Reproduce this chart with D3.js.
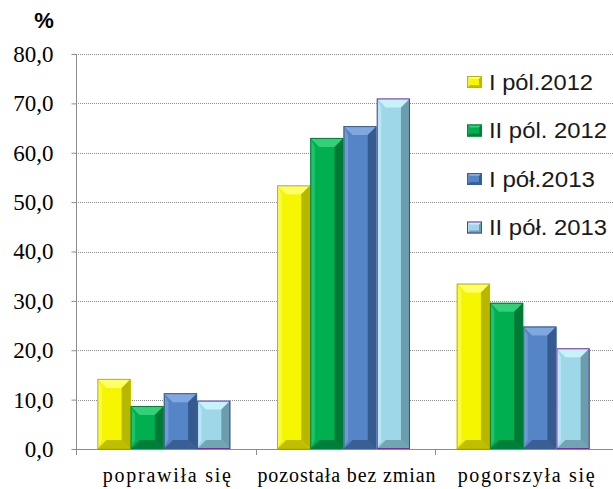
<!DOCTYPE html>
<html>
<head>
<meta charset="utf-8">
<script src="https://cdn.jsdelivr.net/npm/d3@7"></script>
<style>
  body { margin: 0; background: #fff; }
  svg { display: block; }
</style>
</head>
<body>
<div id="chart"></div>
<script>
"use strict";

// Chart data.
const categories = ["poprawiła się", "pozostała bez zmian", "pogorszyła się"];
const seriesNames = ["I pól.2012", "II pól. 2012", "I pół.2013", "II pół. 2013"];
const seriesValues = [
  [14.2, 53.4, 33.5],
  [8.7, 63.0, 29.6],
  [11.3, 65.4, 24.8],
  [9.8, 71.0, 20.4]
];
const yTicks = [0, 10, 20, 30, 40, 50, 60, 70, 80];

// Face colour, light bevel, dark bevel, outline.
const colours = [
  { face: "#f6f600", light: "#ffff66", dark: "#a8a800", line: "#b8b800" },
  { face: "#00b050", light: "#33d07a", dark: "#006b30", line: "#00803a" },
  { face: "#5585c6", light: "#7fa8e0", dark: "#2d4f80", line: "#3a5f90" },
  { face: "#9ed8e8", light: "#c8f2fa", dark: "#5f8f9c", line: "#7030a0" }
];

const width = 613, height = 489;

let svg = d3.select("#chart").append("svg")
  .attr("width", width)
  .attr("height", height);

let y = d3.scaleLinear().domain([0, 80]).range([449, 54]);

let x0 = d3.scaleBand()
  .domain(categories)
  .range([74, 613])
  .paddingInner(0.26)
  .paddingOuter(0.13);

let x1 = d3.scaleBand()
  .domain(d3.range(seriesNames.length))
  .range([0, x0.bandwidth()]);

const axisX = 76;

// Dotted gridlines.
svg.append("g")
  .selectAll("line")
  .data(yTicks.slice(1))
  .enter()
  .append("line")
  .attr("x1", axisX)
  .attr("x2", width)
  .attr("y1", d => Math.round(y(d)) + 0.5)
  .attr("y2", d => Math.round(y(d)) + 0.5)
  .style("stroke", "#8c8c8c")
  .style("stroke-width", 1)
  .style("stroke-dasharray", "1,1");

// Y axis with its labels.
let yAxis = svg.append("g")
  .attr("transform", `translate(${axisX + 0.5},0)`)
  .call(d3.axisLeft(y)
    .tickValues(yTicks)
    .tickSize(5)
    .tickPadding(18)
    .tickFormat(d => d3.format(".1f")(d).replace(".", ",")));
yAxis.select(".domain").attr("stroke", "#8c8c8c").attr("d", `M0,${y(80)}V${y(0)}`);
yAxis.selectAll(".tick line").attr("stroke", "#8c8c8c");
yAxis.selectAll(".tick text")
  .style("font-family", "'Liberation Serif', 'Times New Roman', serif")
  .style("font-size", "23px")
  .attr("fill", "#000");

// X axis line and category ticks.
svg.append("line")
  .attr("x1", axisX)
  .attr("x2", width)
  .attr("y1", y(0) + 0.5)
  .attr("y2", y(0) + 0.5)
  .style("stroke", "#8c8c8c");

svg.append("g")
  .selectAll("line")
  .data(categories)
  .enter()
  .append("line")
  .attr("x1", (d, i) => Math.round(x0.range()[0] + i * x0.step() + 2) + 0.5)
  .attr("x2", (d, i) => Math.round(x0.range()[0] + i * x0.step() + 2) + 0.5)
  .attr("y1", y(0))
  .attr("y2", y(0) + 6)
  .style("stroke", "#8c8c8c");

// Category labels, stretched like the original.
const labelWidths = [128, 178, 137];
svg.append("g")
  .selectAll("text")
  .data(categories)
  .enter()
  .append("text")
  .attr("x", d => x0(d) + x0.bandwidth() / 2 + 3)
  .attr("y", 482)
  .attr("text-anchor", "middle")
  .attr("textLength", (d, i) => labelWidths[i])
  .attr("lengthAdjust", "spacing")
  .style("font-family", "'Liberation Serif', 'Times New Roman', serif")
  .style("font-size", "20px")
  .text(d => d);

// Draws a bevelled box, like the Excel 3-D bar style.
function bevelBox(g, bx, by, bw, bh, c, bevel) {
  let b = Math.min(bevel, bw / 2, bh / 2);
  g.append("rect")
    .attr("x", bx).attr("y", by).attr("width", bw).attr("height", bh)
    .attr("fill", c.face);
  // top
  g.append("polygon")
    .attr("points", [[bx, by], [bx + bw, by], [bx + bw - b, by + b], [bx + b, by + b]].join(" "))
    .attr("fill", c.light);
  // left
  g.append("polygon")
    .attr("points", [[bx, by], [bx + b * 0.5, by + b], [bx + b * 0.5, by + bh - b], [bx, by + bh]].join(" "))
    .attr("fill", c.light).attr("opacity", 0.6);
  // right
  g.append("polygon")
    .attr("points", [[bx + bw, by], [bx + bw - b, by + b], [bx + bw - b, by + bh - b], [bx + bw, by + bh]].join(" "))
    .attr("fill", c.dark).attr("opacity", 0.8);
  // bottom
  g.append("polygon")
    .attr("points", [[bx, by + bh], [bx + b, by + bh - b], [bx + bw - b, by + bh - b], [bx + bw, by + bh]].join(" "))
    .attr("fill", c.dark).attr("opacity", 0.7);
  g.append("rect")
    .attr("x", bx + 0.5).attr("y", by + 0.5).attr("width", bw - 1).attr("height", bh - 1)
    .attr("fill", "none").attr("stroke", c.line).attr("stroke-width", 1);
}

// Bars.
seriesValues.forEach((values, s) => {
  let g = svg.append("g").attr("class", "series");
  values.forEach((v, ci) => {
    let bx = x0(categories[ci]) + x1(s);
    let by = y(v);
    bevelBox(g, bx, by, x1.bandwidth(), y(0) - by, colours[s], 9);
  });
});

// Legend.
let legend = svg.append("g")
  .selectAll("g")
  .data(seriesNames)
  .enter()
  .append("g")
  .attr("transform", (d, i) => `translate(467,${82 + i * 48.5})`);

legend.each(function(d, i) {
  bevelBox(d3.select(this), 0, -6, 15, 12, colours[i], 3);
});

legend.append("text")
  .attr("x", 22)
  .attr("y", 0)
  .attr("dy", "0.36em")
  .attr("textLength", (d, i) => [104, 118, 106, 118][i])
  .attr("lengthAdjust", "spacingAndGlyphs")
  .style("font-family", "'Liberation Sans', Arial, sans-serif")
  .style("font-size", "22px")
  .attr("fill", "#1a1a1a")
  .text(d => d);

// Unit label.
svg.append("text")
  .attr("x", 44)
  .attr("y", 28)
  .attr("text-anchor", "middle")
  .style("font-family", "'Liberation Sans', Arial, sans-serif")
  .style("font-size", "22px")
  .style("font-weight", "bold")
  .text("%");
</script>
</body>
</html>
